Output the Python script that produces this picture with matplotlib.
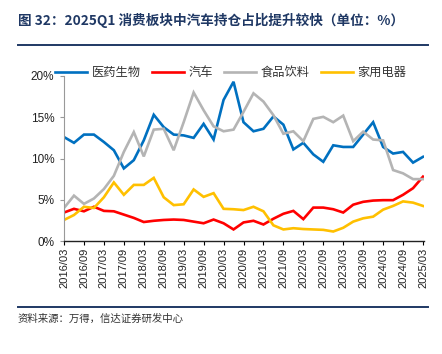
import matplotlib
matplotlib.use("Agg")
import matplotlib.pyplot as plt
from matplotlib.lines import Line2D

plt.rcParams["font.family"] = ["Liberation Sans", "Noto Sans CJK SC", "DejaVu Sans"]

# ── data: quarterly share (%) 2016Q1 .. 2025Q1 ──────────────────────────────
quarters = [f"{y}/{m:02d}" for y in range(2016, 2026) for m in (3, 6, 9, 12)][:37]

pharma = [12.6, 11.9, 12.9, 12.9, 12.0, 11.0, 8.8, 9.8, 12.2, 15.3, 13.8, 12.9,
          12.8, 12.5, 14.2, 12.3, 17.1, 19.3, 14.4, 13.3, 13.6, 15.1, 14.1, 11.1,
          11.9, 10.5, 9.6, 11.6, 11.4, 11.4, 12.9, 14.4, 11.4, 10.6, 10.8, 9.5, 10.2]
auto = [3.45, 3.9, 3.6, 4.15, 3.65, 3.6, 3.2, 2.8, 2.3, 2.45, 2.55, 2.6,
        2.55, 2.35, 2.15, 2.6, 2.15, 1.4, 2.25, 2.45, 2.0, 2.7, 3.3, 3.65,
        2.65, 4.05, 4.05, 3.85, 3.45, 4.4, 4.75, 4.9, 4.95, 4.95, 5.6, 6.4, 7.8]
food = [4.0, 5.5, 4.5, 5.15, 6.3, 7.9, 10.8, 13.2, 10.25, 13.5, 13.6, 11.0,
        14.4, 18.0, 15.85, 13.9, 13.3, 13.5, 15.65, 17.9, 16.9, 15.25, 13.0, 13.3,
        12.1, 14.8, 15.05, 14.4, 15.2, 12.1, 13.25, 12.3, 12.2, 8.6, 8.2, 7.5, 7.5]
appliance = [2.55, 3.15, 4.15, 4.0, 5.3, 7.1, 5.6, 6.8, 6.8, 7.65, 5.3, 4.35,
             4.45, 6.25, 5.35, 5.8, 3.9, 3.85, 3.75, 4.15, 3.6, 1.9, 1.4, 1.55,
             1.45, 1.4, 1.35, 1.15, 1.6, 2.35, 2.75, 2.95, 3.8, 4.25, 4.8, 4.65, 4.25]

series = [("医药生物", pharma, "#0070C0"),
          ("汽车", auto, "#FF0000"),
          ("食品饮料", food, "#B4B4B4"),
          ("家用电器", appliance, "#FFC000")]

yticks = [0, 5, 10, 15, 20]
ytick_labels = ["0%", "5%", "10%", "15%", "20%"]

# ── figure ──────────────────────────────────────────────────────────────────
W, H = 442, 354
fig = plt.figure(figsize=(W / 100, H / 100), dpi=100)
ax = fig.add_axes([64 / W, 1 - 241 / H, 360 / W, 165 / H])

x = list(range(len(quarters)))
for name, vals, col in series:
    ax.plot(x, vals, color=col, lw=1.9, label=name, solid_joinstyle="miter")

ax.set_xlim(0, 36.1)
ax.set_ylim(0, 20)
ax.set_xticks(x[::2])
ax.set_xticklabels(quarters[::2], rotation=90, fontsize=8, color="#222222")
ax.set_yticks(yticks)
ax.set_yticklabels(ytick_labels, fontsize=8.5, color="#222222")
ax.tick_params(axis="x", direction="out", length=3, width=0.8, pad=2)
ax.tick_params(axis="y", direction="out", length=3, width=0.8, pad=4, color="#999999")

for s in ("top", "right"):
    ax.spines[s].set_visible(False)
ax.spines["left"].set_color("#999999")
ax.spines["bottom"].set_color("#222222")
ax.spines["bottom"].set_linewidth(1.0)

leg = ax.legend(loc="center", bbox_to_anchor=(0.464, 1.02), ncol=4, frameon=False,
                handlelength=2.6, handletextpad=0.4, columnspacing=0.9,
                prop={"family": ["Noto Sans CJK SC"], "size": 8.8})
for t in leg.get_texts():
    t.set_color("#333333")

# title and rules
navy = "#1F3864"
fig.text(18 / W, 1 - 20 / H, "图 32：2025Q1 消费板块中汽车持仓占比提升较快（单位：%）",
         ha="left", va="center", fontsize=9.8, fontweight="bold", color=navy,
         family=["Noto Sans CJK SC", "DejaVu Sans"])
fig.add_artist(Line2D([18 / W, 428 / W], [1 - 45 / H, 1 - 45 / H],
                      color=navy, lw=1.4, transform=fig.transFigure))
fig.add_artist(Line2D([18 / W, 428 / W], [1 - 307 / H, 1 - 307 / H],
                      color=navy, lw=1.4, transform=fig.transFigure))
fig.text(18 / W, 1 - 319 / H, "资料来源：万得，信达证券研发中心",
         ha="left", va="center", fontsize=7.5, color="#333333", style="italic",
         family=["Noto Sans CJK SC", "DejaVu Sans"])

fig.savefig("out.png", dpi=100)
